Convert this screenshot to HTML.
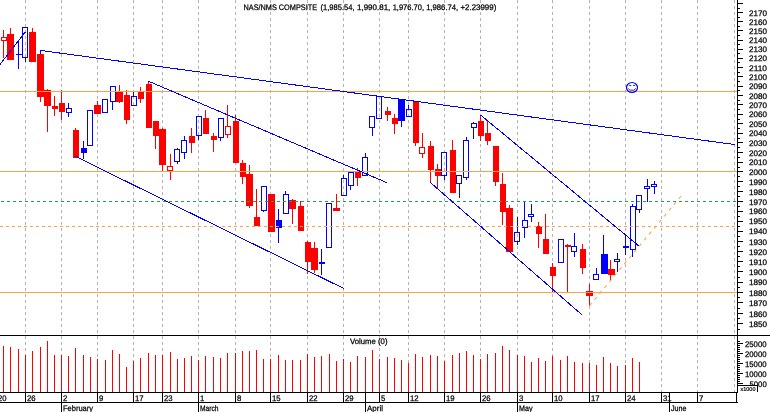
<!DOCTYPE html><html><head><meta charset="utf-8"><title>NAS/NMS COMPSITE</title>
<style>html,body{margin:0;padding:0;background:#fff;overflow:hidden}svg{display:block}text{font-family:"Liberation Sans",sans-serif;fill:#000}</style></head><body>
<svg width="770" height="412" viewBox="0 0 770 412" shape-rendering="crispEdges">
<rect width="770" height="412" fill="#fff"/>
<g stroke="#b4b4b4" stroke-width="1" stroke-dasharray="3 3" fill="none">
<line x1="25.5" y1="0" x2="25.5" y2="392"/>
<line x1="61.5" y1="0" x2="61.5" y2="392"/>
<line x1="97.5" y1="0" x2="97.5" y2="392"/>
<line x1="133.5" y1="0" x2="133.5" y2="392"/>
<line x1="162.5" y1="0" x2="162.5" y2="392"/>
<line x1="198.5" y1="0" x2="198.5" y2="392"/>
<line x1="235.5" y1="0" x2="235.5" y2="392"/>
<line x1="270.5" y1="0" x2="270.5" y2="392"/>
<line x1="307.5" y1="0" x2="307.5" y2="392"/>
<line x1="343.5" y1="0" x2="343.5" y2="392"/>
<line x1="379.5" y1="0" x2="379.5" y2="392"/>
<line x1="408.5" y1="0" x2="408.5" y2="392"/>
<line x1="444.5" y1="0" x2="444.5" y2="392"/>
<line x1="480.5" y1="0" x2="480.5" y2="392"/>
<line x1="517.5" y1="0" x2="517.5" y2="392"/>
<line x1="552.5" y1="0" x2="552.5" y2="392"/>
<line x1="589.5" y1="0" x2="589.5" y2="392"/>
<line x1="625.5" y1="0" x2="625.5" y2="392"/>
<line x1="661.5" y1="0" x2="661.5" y2="392"/>
<line x1="697.5" y1="0" x2="697.5" y2="392"/>
<line x1="734.5" y1="0" x2="734.5" y2="392"/>
</g>
<g fill="#ff0000">
<rect x="3" y="346" width="1" height="46"/>
<rect x="10" y="347" width="1" height="45"/>
<rect x="18" y="349" width="1" height="43"/>
<rect x="25" y="355" width="1" height="37"/>
<rect x="32" y="351" width="1" height="41"/>
<rect x="40" y="347" width="1" height="45"/>
<rect x="47" y="341" width="1" height="51"/>
<rect x="54" y="355" width="1" height="37"/>
<rect x="61" y="355" width="1" height="37"/>
<rect x="68" y="356" width="1" height="36"/>
<rect x="75" y="348" width="1" height="44"/>
<rect x="83" y="355" width="1" height="37"/>
<rect x="90" y="357" width="1" height="35"/>
<rect x="97" y="359" width="1" height="33"/>
<rect x="105" y="360" width="1" height="32"/>
<rect x="112" y="350" width="1" height="42"/>
<rect x="119" y="354" width="1" height="38"/>
<rect x="126" y="367" width="1" height="25"/>
<rect x="133" y="361" width="1" height="31"/>
<rect x="140" y="358" width="1" height="34"/>
<rect x="148" y="353" width="1" height="39"/>
<rect x="155" y="355" width="1" height="37"/>
<rect x="162" y="355" width="1" height="37"/>
<rect x="170" y="352" width="1" height="40"/>
<rect x="177" y="359" width="1" height="33"/>
<rect x="184" y="358" width="1" height="34"/>
<rect x="191" y="356" width="1" height="36"/>
<rect x="198" y="360" width="1" height="32"/>
<rect x="205" y="356" width="1" height="36"/>
<rect x="213" y="357" width="1" height="35"/>
<rect x="220" y="358" width="1" height="34"/>
<rect x="227" y="353" width="1" height="39"/>
<rect x="235" y="353" width="1" height="39"/>
<rect x="242" y="351" width="1" height="41"/>
<rect x="249" y="351" width="1" height="41"/>
<rect x="256" y="350" width="1" height="42"/>
<rect x="263" y="359" width="1" height="33"/>
<rect x="270" y="359" width="1" height="33"/>
<rect x="278" y="355" width="1" height="37"/>
<rect x="285" y="360" width="1" height="32"/>
<rect x="292" y="360" width="1" height="32"/>
<rect x="300" y="360" width="1" height="32"/>
<rect x="307" y="354" width="1" height="38"/>
<rect x="314" y="357" width="1" height="35"/>
<rect x="321" y="356" width="1" height="36"/>
<rect x="329" y="354" width="1" height="38"/>
<rect x="336" y="361" width="1" height="31"/>
<rect x="343" y="359" width="1" height="33"/>
<rect x="350" y="362" width="1" height="30"/>
<rect x="357" y="356" width="1" height="36"/>
<rect x="365" y="357" width="1" height="35"/>
<rect x="372" y="350" width="1" height="42"/>
<rect x="379" y="359" width="1" height="33"/>
<rect x="387" y="357" width="1" height="35"/>
<rect x="394" y="358" width="1" height="34"/>
<rect x="401" y="360" width="1" height="32"/>
<rect x="408" y="363" width="1" height="29"/>
<rect x="415" y="354" width="1" height="38"/>
<rect x="422" y="357" width="1" height="35"/>
<rect x="430" y="355" width="1" height="37"/>
<rect x="437" y="356" width="1" height="36"/>
<rect x="444" y="361" width="1" height="31"/>
<rect x="452" y="355" width="1" height="37"/>
<rect x="459" y="353" width="1" height="39"/>
<rect x="466" y="351" width="1" height="41"/>
<rect x="473" y="355" width="1" height="37"/>
<rect x="480" y="359" width="1" height="33"/>
<rect x="487" y="354" width="1" height="38"/>
<rect x="495" y="353" width="1" height="39"/>
<rect x="502" y="346" width="1" height="46"/>
<rect x="509" y="350" width="1" height="42"/>
<rect x="517" y="355" width="1" height="37"/>
<rect x="524" y="356" width="1" height="36"/>
<rect x="531" y="362" width="1" height="30"/>
<rect x="538" y="358" width="1" height="34"/>
<rect x="545" y="361" width="1" height="31"/>
<rect x="552" y="356" width="1" height="36"/>
<rect x="560" y="360" width="1" height="32"/>
<rect x="567" y="356" width="1" height="36"/>
<rect x="574" y="362" width="1" height="30"/>
<rect x="582" y="363" width="1" height="29"/>
<rect x="589" y="363" width="1" height="29"/>
<rect x="596" y="365" width="1" height="27"/>
<rect x="603" y="357" width="1" height="35"/>
<rect x="610" y="363" width="1" height="29"/>
<rect x="617" y="366" width="1" height="26"/>
<rect x="625" y="365" width="1" height="27"/>
<rect x="632" y="358" width="1" height="34"/>
<rect x="639" y="362" width="1" height="30"/>
</g>
<rect x="3" y="30" width="1" height="7" fill="#ff0000"/>
<rect x="3" y="41" width="1" height="17" fill="#ff0000"/>
<rect x="1.5" y="37.5" width="5" height="3" fill="none" stroke="#ff0000" stroke-width="1"/>
<rect x="10" y="28" width="1" height="32" fill="#ff0000"/>
<rect x="7" y="34" width="7" height="26" fill="#ff0000"/>
<rect x="18" y="41" width="1" height="28" fill="#0000ff"/>
<rect x="16" y="54" width="6" height="1" fill="#0000ff"/>
<rect x="25" y="58" width="1" height="4" fill="#0000ff"/>
<rect x="22.5" y="27.5" width="5" height="30" fill="none" stroke="#0000ff" stroke-width="1"/>
<rect x="32" y="28" width="1" height="34" fill="#ff0000"/>
<rect x="29" y="32" width="7" height="30" fill="#ff0000"/>
<rect x="40" y="50" width="1" height="52" fill="#ff0000"/>
<rect x="37" y="54" width="7" height="43" fill="#ff0000"/>
<rect x="47" y="89" width="1" height="43" fill="#ff0000"/>
<rect x="44" y="90" width="7" height="16" fill="#ff0000"/>
<rect x="54" y="96" width="1" height="20" fill="#ff0000"/>
<rect x="52" y="106" width="6" height="3" fill="#ff0000"/>
<rect x="61" y="90" width="1" height="30" fill="#ff0000"/>
<rect x="59" y="103" width="6" height="9" fill="#ff0000"/>
<rect x="68" y="103" width="1" height="5" fill="#0000ff"/>
<rect x="68" y="113" width="1" height="4" fill="#0000ff"/>
<rect x="66.5" y="108.5" width="5" height="4" fill="none" stroke="#0000ff" stroke-width="1"/>
<rect x="75" y="128" width="1" height="30" fill="#ff0000"/>
<rect x="73" y="130" width="6" height="28" fill="#ff0000"/>
<rect x="83" y="141" width="1" height="18" fill="#0000ff"/>
<rect x="81" y="148" width="6" height="5" fill="#0000ff"/>
<rect x="87.5" y="110.5" width="5" height="35" fill="none" stroke="#0000ff" stroke-width="1"/>
<rect x="97" y="101" width="1" height="13" fill="#ff0000"/>
<rect x="94" y="105" width="7" height="9" fill="#ff0000"/>
<rect x="102.5" y="99.5" width="5" height="13" fill="none" stroke="#0000ff" stroke-width="1"/>
<rect x="112" y="102" width="1" height="8" fill="#0000ff"/>
<rect x="110.5" y="86.5" width="5" height="15" fill="none" stroke="#0000ff" stroke-width="1"/>
<rect x="119" y="85" width="1" height="18" fill="#ff0000"/>
<rect x="116" y="92" width="7" height="10" fill="#ff0000"/>
<rect x="126" y="90" width="1" height="34" fill="#ff0000"/>
<rect x="124" y="95" width="6" height="25" fill="#ff0000"/>
<rect x="133" y="92" width="1" height="4" fill="#0000ff"/>
<rect x="131.5" y="96.5" width="5" height="9" fill="none" stroke="#0000ff" stroke-width="1"/>
<rect x="140" y="87" width="1" height="16" fill="#ff0000"/>
<rect x="138" y="92" width="6" height="7" fill="#ff0000"/>
<rect x="148" y="81" width="1" height="47" fill="#ff0000"/>
<rect x="146" y="84" width="6" height="44" fill="#ff0000"/>
<rect x="155" y="121" width="1" height="28" fill="#ff0000"/>
<rect x="153" y="121" width="6" height="15" fill="#ff0000"/>
<rect x="162" y="128" width="1" height="43" fill="#ff0000"/>
<rect x="159" y="129" width="7" height="36" fill="#ff0000"/>
<rect x="170" y="154" width="1" height="12" fill="#ff0000"/>
<rect x="170" y="171" width="1" height="9" fill="#ff0000"/>
<rect x="167.5" y="166.5" width="5" height="4" fill="none" stroke="#ff0000" stroke-width="1"/>
<rect x="177" y="148" width="1" height="1" fill="#0000ff"/>
<rect x="177" y="162" width="1" height="2" fill="#0000ff"/>
<rect x="174.5" y="149.5" width="5" height="12" fill="none" stroke="#0000ff" stroke-width="1"/>
<rect x="184" y="136" width="1" height="4" fill="#0000ff"/>
<rect x="184" y="153" width="1" height="6" fill="#0000ff"/>
<rect x="181.5" y="140.5" width="5" height="12" fill="none" stroke="#0000ff" stroke-width="1"/>
<rect x="191" y="128" width="1" height="25" fill="#ff0000"/>
<rect x="189" y="136" width="6" height="7" fill="#ff0000"/>
<rect x="198" y="136" width="1" height="4" fill="#0000ff"/>
<rect x="196.5" y="116.5" width="5" height="19" fill="none" stroke="#0000ff" stroke-width="1"/>
<rect x="205" y="110" width="1" height="24" fill="#ff0000"/>
<rect x="203" y="118" width="6" height="16" fill="#ff0000"/>
<rect x="213" y="133" width="1" height="19" fill="#ff0000"/>
<rect x="211" y="136" width="6" height="4" fill="#ff0000"/>
<rect x="220" y="138" width="1" height="3" fill="#0000ff"/>
<rect x="218.5" y="118.5" width="5" height="19" fill="none" stroke="#0000ff" stroke-width="1"/>
<rect x="227" y="105" width="1" height="21" fill="#ff0000"/>
<rect x="227" y="135" width="1" height="3" fill="#ff0000"/>
<rect x="225.5" y="126.5" width="5" height="8" fill="none" stroke="#ff0000" stroke-width="1"/>
<rect x="235" y="115" width="1" height="48" fill="#ff0000"/>
<rect x="233" y="121" width="6" height="42" fill="#ff0000"/>
<rect x="242" y="160" width="1" height="24" fill="#ff0000"/>
<rect x="240" y="163" width="6" height="14" fill="#ff0000"/>
<rect x="249" y="165" width="1" height="43" fill="#ff0000"/>
<rect x="246" y="174" width="7" height="32" fill="#ff0000"/>
<rect x="256" y="189" width="1" height="37" fill="#ff0000"/>
<rect x="254" y="217" width="6" height="9" fill="#ff0000"/>
<rect x="263" y="211" width="1" height="1" fill="#0000ff"/>
<rect x="261.5" y="186.5" width="5" height="24" fill="none" stroke="#0000ff" stroke-width="1"/>
<rect x="270" y="194" width="1" height="38" fill="#ff0000"/>
<rect x="268" y="194" width="7" height="38" fill="#ff0000"/>
<rect x="278" y="209" width="1" height="34" fill="#0000ff"/>
<rect x="276" y="220" width="6" height="8" fill="#0000ff"/>
<rect x="285" y="191" width="1" height="3" fill="#0000ff"/>
<rect x="283.5" y="194.5" width="5" height="19" fill="none" stroke="#0000ff" stroke-width="1"/>
<rect x="292" y="199" width="1" height="25" fill="#ff0000"/>
<rect x="289" y="200" width="7" height="9" fill="#ff0000"/>
<rect x="300" y="201" width="1" height="30" fill="#ff0000"/>
<rect x="298" y="206" width="6" height="25" fill="#ff0000"/>
<rect x="307" y="241" width="1" height="33" fill="#ff0000"/>
<rect x="305" y="242" width="6" height="20" fill="#ff0000"/>
<rect x="314" y="242" width="1" height="31" fill="#ff0000"/>
<rect x="311" y="248" width="7" height="22" fill="#ff0000"/>
<rect x="321" y="249" width="1" height="26" fill="#0000ff"/>
<rect x="319" y="262" width="6" height="2" fill="#0000ff"/>
<rect x="326.5" y="203.5" width="5" height="44" fill="none" stroke="#0000ff" stroke-width="1"/>
<rect x="336" y="194" width="1" height="17" fill="#ff0000"/>
<rect x="333" y="208" width="7" height="3" fill="#ff0000"/>
<rect x="343" y="175" width="1" height="3" fill="#0000ff"/>
<rect x="341.5" y="178.5" width="5" height="17" fill="none" stroke="#0000ff" stroke-width="1"/>
<rect x="350" y="186" width="1" height="4" fill="#0000ff"/>
<rect x="348.5" y="172.5" width="5" height="13" fill="none" stroke="#0000ff" stroke-width="1"/>
<rect x="357" y="168" width="1" height="18" fill="#ff0000"/>
<rect x="355" y="172" width="6" height="6" fill="#ff0000"/>
<rect x="365" y="153" width="1" height="4" fill="#0000ff"/>
<rect x="362.5" y="157.5" width="5" height="18" fill="none" stroke="#0000ff" stroke-width="1"/>
<rect x="372" y="128" width="1" height="8" fill="#0000ff"/>
<rect x="369.5" y="116.5" width="5" height="11" fill="none" stroke="#0000ff" stroke-width="1"/>
<rect x="376.5" y="96.5" width="5" height="22" fill="none" stroke="#0000ff" stroke-width="1"/>
<rect x="387" y="107" width="1" height="14" fill="#ff0000"/>
<rect x="385" y="111" width="6" height="4" fill="#ff0000"/>
<rect x="394" y="114" width="1" height="20" fill="#ff0000"/>
<rect x="392" y="118" width="6" height="6" fill="#ff0000"/>
<rect x="401" y="99" width="1" height="28" fill="#0000ff"/>
<rect x="398" y="99" width="7" height="22" fill="#0000ff"/>
<rect x="408" y="105" width="1" height="4" fill="#0000ff"/>
<rect x="406.5" y="109.5" width="5" height="7" fill="none" stroke="#0000ff" stroke-width="1"/>
<rect x="415" y="102" width="1" height="44" fill="#ff0000"/>
<rect x="413" y="102" width="6" height="41" fill="#ff0000"/>
<rect x="422" y="133" width="1" height="14" fill="#ff0000"/>
<rect x="422" y="154" width="1" height="4" fill="#ff0000"/>
<rect x="419.5" y="147.5" width="5" height="6" fill="none" stroke="#ff0000" stroke-width="1"/>
<rect x="430" y="141" width="1" height="41" fill="#ff0000"/>
<rect x="428" y="146" width="6" height="24" fill="#ff0000"/>
<rect x="437" y="164" width="1" height="24" fill="#ff0000"/>
<rect x="435" y="169" width="6" height="7" fill="#ff0000"/>
<rect x="444" y="176" width="1" height="4" fill="#0000ff"/>
<rect x="441.5" y="152.5" width="5" height="23" fill="none" stroke="#0000ff" stroke-width="1"/>
<rect x="452" y="140" width="1" height="53" fill="#ff0000"/>
<rect x="450" y="150" width="6" height="43" fill="#ff0000"/>
<rect x="459" y="184" width="1" height="14" fill="#0000ff"/>
<rect x="456.5" y="175.5" width="5" height="8" fill="none" stroke="#0000ff" stroke-width="1"/>
<rect x="466" y="137" width="1" height="3" fill="#0000ff"/>
<rect x="466" y="178" width="1" height="2" fill="#0000ff"/>
<rect x="463.5" y="140.5" width="5" height="37" fill="none" stroke="#0000ff" stroke-width="1"/>
<rect x="473" y="122" width="1" height="1" fill="#0000ff"/>
<rect x="473" y="128" width="1" height="11" fill="#0000ff"/>
<rect x="471.5" y="123.5" width="5" height="4" fill="none" stroke="#0000ff" stroke-width="1"/>
<rect x="480" y="115" width="1" height="26" fill="#ff0000"/>
<rect x="478" y="121" width="6" height="15" fill="#ff0000"/>
<rect x="487" y="120" width="1" height="25" fill="#ff0000"/>
<rect x="485" y="133" width="6" height="8" fill="#ff0000"/>
<rect x="495" y="146" width="1" height="40" fill="#ff0000"/>
<rect x="493" y="146" width="6" height="36" fill="#ff0000"/>
<rect x="502" y="173" width="1" height="52" fill="#ff0000"/>
<rect x="500" y="184" width="6" height="28" fill="#ff0000"/>
<rect x="509" y="205" width="1" height="47" fill="#ff0000"/>
<rect x="506" y="208" width="7" height="44" fill="#ff0000"/>
<rect x="517" y="217" width="1" height="15" fill="#0000ff"/>
<rect x="517" y="242" width="1" height="3" fill="#0000ff"/>
<rect x="514.5" y="232.5" width="5" height="9" fill="none" stroke="#0000ff" stroke-width="1"/>
<rect x="524" y="202" width="1" height="18" fill="#0000ff"/>
<rect x="524" y="228" width="1" height="10" fill="#0000ff"/>
<rect x="522.5" y="220.5" width="5" height="7" fill="none" stroke="#0000ff" stroke-width="1"/>
<rect x="531" y="204" width="1" height="10" fill="#0000ff"/>
<rect x="531" y="217" width="1" height="5" fill="#0000ff"/>
<rect x="528.5" y="214.5" width="5" height="2" fill="none" stroke="#0000ff" stroke-width="1"/>
<rect x="538" y="222" width="1" height="26" fill="#ff0000"/>
<rect x="536" y="226" width="6" height="8" fill="#ff0000"/>
<rect x="545" y="214" width="1" height="40" fill="#ff0000"/>
<rect x="543" y="239" width="6" height="15" fill="#ff0000"/>
<rect x="552" y="263" width="1" height="29" fill="#ff0000"/>
<rect x="550" y="267" width="6" height="9" fill="#ff0000"/>
<rect x="558.5" y="239.5" width="5" height="23" fill="none" stroke="#0000ff" stroke-width="1"/>
<rect x="567" y="244" width="1" height="48" fill="#ff0000"/>
<rect x="565" y="245" width="6" height="2" fill="#ff0000"/>
<rect x="574" y="233" width="1" height="13" fill="#0000ff"/>
<rect x="574" y="252" width="1" height="5" fill="#0000ff"/>
<rect x="571.5" y="246.5" width="5" height="5" fill="none" stroke="#0000ff" stroke-width="1"/>
<rect x="582" y="244" width="1" height="30" fill="#ff0000"/>
<rect x="580" y="249" width="6" height="19" fill="#ff0000"/>
<rect x="589" y="284" width="1" height="22" fill="#ff0000"/>
<rect x="586" y="291" width="7" height="5" fill="#ff0000"/>
<rect x="596" y="268" width="1" height="6" fill="#0000ff"/>
<rect x="593.5" y="274.5" width="5" height="5" fill="none" stroke="#0000ff" stroke-width="1"/>
<rect x="603" y="235" width="1" height="39" fill="#0000ff"/>
<rect x="601" y="254" width="7" height="20" fill="#0000ff"/>
<rect x="610" y="260" width="1" height="21" fill="#ff0000"/>
<rect x="608" y="269" width="7" height="6" fill="#ff0000"/>
<rect x="617" y="253" width="1" height="6" fill="#0000ff"/>
<rect x="617" y="262" width="1" height="10" fill="#0000ff"/>
<rect x="614.5" y="259.5" width="5" height="2" fill="none" stroke="#0000ff" stroke-width="1"/>
<rect x="625" y="235" width="1" height="20" fill="#0000ff"/>
<rect x="623" y="246" width="6" height="2" fill="#0000ff"/>
<rect x="632" y="204" width="1" height="2" fill="#0000ff"/>
<rect x="632" y="250" width="1" height="7" fill="#0000ff"/>
<rect x="630.5" y="206.5" width="5" height="43" fill="none" stroke="#0000ff" stroke-width="1"/>
<rect x="639" y="210" width="1" height="3" fill="#0000ff"/>
<rect x="636.5" y="195.5" width="5" height="14" fill="none" stroke="#0000ff" stroke-width="1"/>
<rect x="647" y="179" width="1" height="7" fill="#0000ff"/>
<rect x="647" y="189" width="1" height="13" fill="#0000ff"/>
<rect x="644.5" y="186.5" width="5" height="2" fill="none" stroke="#0000ff" stroke-width="1"/>
<rect x="654" y="181" width="1" height="3" fill="#0000ff"/>
<rect x="654" y="187" width="1" height="7" fill="#0000ff"/>
<rect x="651.5" y="184.5" width="5" height="2" fill="none" stroke="#0000ff" stroke-width="1"/>
<g fill="#ffa046">
<rect x="0" y="91" width="737" height="1"/>
<rect x="0" y="171" width="737" height="1"/>
<rect x="0" y="292" width="737" height="1"/>
</g>
<g stroke="#ffa046" stroke-width="1" fill="none">
<line x1="0" y1="226.5" x2="737" y2="226.5" stroke-dasharray="3 3"/>
<line x1="589.5" y1="305.7" x2="681.2" y2="195.9" stroke-dasharray="3.4 4.35" stroke-width="1.05" shape-rendering="auto"/>
</g>
<line x1="1" y1="201.5" x2="737" y2="201.5" stroke="#22a055" stroke-width="1" stroke-dasharray="3 3"/>
<g stroke="#0000ff" stroke-width="1" fill="none" shape-rendering="crispEdges" stroke-linecap="butt">
<line x1="0" y1="64.4" x2="25.5" y2="31.7"/>
<polyline points="40.3,54 40.3,50.4 735,144.6"/>
<line x1="148.4" y1="81.2" x2="386.7" y2="182.6"/>
<line x1="75" y1="156.2" x2="344" y2="288.6"/>
<line x1="430" y1="182.2" x2="581.7" y2="314.6"/>
<line x1="480.6" y1="115" x2="639.3" y2="246.4"/>
<ellipse cx="632" cy="87.5" rx="5.5" ry="5" stroke-width="1.2" shape-rendering="auto"/>
<path d="M629.2 85.4H631.2M633 85.4H635.1M628.3 88.4Q629.3 90.1 630.6 90.2H633.6Q634.9 90.1 635.6 88.4" stroke-width="0.9" shape-rendering="auto"/>
</g>
<g fill="#000">
<rect x="0" y="335" width="770" height="1"/>
<rect x="0" y="392" width="738" height="1"/>
<rect x="0" y="402" width="738" height="1"/>
<rect x="737" y="0" width="1" height="392"/>
<rect x="737" y="329" width="3" height="1"/>
<rect x="737" y="323" width="6" height="1"/>
<rect x="737" y="318" width="3" height="1"/>
<rect x="737" y="313" width="6" height="1"/>
<rect x="737" y="308" width="3" height="1"/>
<rect x="737" y="302" width="6" height="1"/>
<rect x="737" y="297" width="3" height="1"/>
<rect x="737" y="292" width="6" height="1"/>
<rect x="737" y="287" width="3" height="1"/>
<rect x="737" y="282" width="6" height="1"/>
<rect x="737" y="277" width="3" height="1"/>
<rect x="737" y="271" width="6" height="1"/>
<rect x="737" y="266" width="3" height="1"/>
<rect x="737" y="261" width="6" height="1"/>
<rect x="737" y="256" width="3" height="1"/>
<rect x="737" y="251" width="6" height="1"/>
<rect x="737" y="246" width="3" height="1"/>
<rect x="737" y="241" width="6" height="1"/>
<rect x="737" y="236" width="3" height="1"/>
<rect x="737" y="231" width="6" height="1"/>
<rect x="737" y="226" width="3" height="1"/>
<rect x="737" y="221" width="6" height="1"/>
<rect x="737" y="216" width="3" height="1"/>
<rect x="737" y="211" width="6" height="1"/>
<rect x="737" y="206" width="3" height="1"/>
<rect x="737" y="201" width="6" height="1"/>
<rect x="737" y="196" width="3" height="1"/>
<rect x="737" y="191" width="6" height="1"/>
<rect x="737" y="186" width="3" height="1"/>
<rect x="737" y="181" width="6" height="1"/>
<rect x="737" y="176" width="3" height="1"/>
<rect x="737" y="171" width="6" height="1"/>
<rect x="737" y="167" width="3" height="1"/>
<rect x="737" y="162" width="6" height="1"/>
<rect x="737" y="157" width="3" height="1"/>
<rect x="737" y="152" width="6" height="1"/>
<rect x="737" y="147" width="3" height="1"/>
<rect x="737" y="142" width="6" height="1"/>
<rect x="737" y="138" width="3" height="1"/>
<rect x="737" y="133" width="6" height="1"/>
<rect x="737" y="128" width="3" height="1"/>
<rect x="737" y="123" width="6" height="1"/>
<rect x="737" y="119" width="3" height="1"/>
<rect x="737" y="114" width="6" height="1"/>
<rect x="737" y="109" width="3" height="1"/>
<rect x="737" y="104" width="6" height="1"/>
<rect x="737" y="100" width="3" height="1"/>
<rect x="737" y="95" width="6" height="1"/>
<rect x="737" y="90" width="3" height="1"/>
<rect x="737" y="86" width="6" height="1"/>
<rect x="737" y="81" width="3" height="1"/>
<rect x="737" y="76" width="6" height="1"/>
<rect x="737" y="72" width="3" height="1"/>
<rect x="737" y="67" width="6" height="1"/>
<rect x="737" y="62" width="3" height="1"/>
<rect x="737" y="58" width="6" height="1"/>
<rect x="737" y="53" width="3" height="1"/>
<rect x="737" y="49" width="6" height="1"/>
<rect x="737" y="44" width="3" height="1"/>
<rect x="737" y="40" width="6" height="1"/>
<rect x="737" y="35" width="3" height="1"/>
<rect x="737" y="30" width="6" height="1"/>
<rect x="737" y="26" width="3" height="1"/>
<rect x="737" y="21" width="6" height="1"/>
<rect x="737" y="17" width="3" height="1"/>
<rect x="737" y="12" width="6" height="1"/>
<rect x="737" y="8" width="3" height="1"/>
<rect x="737" y="3" width="6" height="1"/>
<rect x="737" y="391" width="3" height="1"/>
<rect x="737" y="389" width="3" height="1"/>
<rect x="737" y="387" width="3" height="1"/>
<rect x="737" y="385" width="3" height="1"/>
<rect x="737" y="383" width="6" height="1"/>
<rect x="737" y="381" width="3" height="1"/>
<rect x="737" y="379" width="3" height="1"/>
<rect x="737" y="377" width="3" height="1"/>
<rect x="737" y="375" width="3" height="1"/>
<rect x="737" y="373" width="6" height="1"/>
<rect x="737" y="371" width="3" height="1"/>
<rect x="737" y="369" width="3" height="1"/>
<rect x="737" y="367" width="3" height="1"/>
<rect x="737" y="365" width="3" height="1"/>
<rect x="737" y="363" width="6" height="1"/>
<rect x="737" y="361" width="3" height="1"/>
<rect x="737" y="359" width="3" height="1"/>
<rect x="737" y="357" width="3" height="1"/>
<rect x="737" y="355" width="3" height="1"/>
<rect x="737" y="353" width="6" height="1"/>
<rect x="737" y="351" width="3" height="1"/>
<rect x="737" y="349" width="3" height="1"/>
<rect x="737" y="347" width="3" height="1"/>
<rect x="737" y="345" width="3" height="1"/>
<rect x="737" y="343" width="6" height="1"/>
<rect x="737" y="341" width="3" height="1"/>
<rect x="25" y="392" width="1" height="10"/>
<rect x="61" y="392" width="1" height="10"/>
<rect x="97" y="392" width="1" height="10"/>
<rect x="133" y="392" width="1" height="10"/>
<rect x="162" y="392" width="1" height="10"/>
<rect x="198" y="392" width="1" height="10"/>
<rect x="235" y="392" width="1" height="10"/>
<rect x="270" y="392" width="1" height="10"/>
<rect x="307" y="392" width="1" height="10"/>
<rect x="343" y="392" width="1" height="10"/>
<rect x="379" y="392" width="1" height="10"/>
<rect x="408" y="392" width="1" height="10"/>
<rect x="444" y="392" width="1" height="10"/>
<rect x="480" y="392" width="1" height="10"/>
<rect x="517" y="392" width="1" height="10"/>
<rect x="552" y="392" width="1" height="10"/>
<rect x="589" y="392" width="1" height="10"/>
<rect x="625" y="392" width="1" height="10"/>
<rect x="661" y="392" width="1" height="10"/>
<rect x="697" y="392" width="1" height="10"/>
<rect x="365" y="392" width="1" height="10"/>
<rect x="736" y="392" width="1" height="10"/>
<rect x="669" y="392" width="1" height="10"/>
<rect x="61" y="402" width="1" height="10"/>
<rect x="198" y="402" width="1" height="10"/>
<rect x="365" y="402" width="1" height="10"/>
<rect x="517" y="402" width="1" height="10"/>
<rect x="669" y="402" width="1" height="10"/>
</g>
<g font-size="8px" shape-rendering="auto" text-rendering="geometricPrecision" stroke="#000" stroke-width="0.25">
<text x="749" y="327.0" textLength="18" lengthAdjust="spacingAndGlyphs">1850</text>
<text x="749" y="316.5" textLength="18" lengthAdjust="spacingAndGlyphs">1860</text>
<text x="749" y="306.1" textLength="18" lengthAdjust="spacingAndGlyphs">1870</text>
<text x="749" y="295.7" textLength="18" lengthAdjust="spacingAndGlyphs">1880</text>
<text x="749" y="285.3" textLength="18" lengthAdjust="spacingAndGlyphs">1890</text>
<text x="749" y="275.0" textLength="18" lengthAdjust="spacingAndGlyphs">1900</text>
<text x="749" y="264.8" textLength="18" lengthAdjust="spacingAndGlyphs">1910</text>
<text x="749" y="254.6" textLength="18" lengthAdjust="spacingAndGlyphs">1920</text>
<text x="749" y="244.5" textLength="18" lengthAdjust="spacingAndGlyphs">1930</text>
<text x="749" y="234.4" textLength="18" lengthAdjust="spacingAndGlyphs">1940</text>
<text x="749" y="224.4" textLength="18" lengthAdjust="spacingAndGlyphs">1950</text>
<text x="749" y="214.4" textLength="18" lengthAdjust="spacingAndGlyphs">1960</text>
<text x="749" y="204.5" textLength="18" lengthAdjust="spacingAndGlyphs">1970</text>
<text x="749" y="194.6" textLength="18" lengthAdjust="spacingAndGlyphs">1980</text>
<text x="749" y="184.8" textLength="18" lengthAdjust="spacingAndGlyphs">1990</text>
<text x="749" y="175.0" textLength="18" lengthAdjust="spacingAndGlyphs">2000</text>
<text x="749" y="165.3" textLength="18" lengthAdjust="spacingAndGlyphs">2010</text>
<text x="749" y="155.6" textLength="18" lengthAdjust="spacingAndGlyphs">2020</text>
<text x="749" y="146.0" textLength="18" lengthAdjust="spacingAndGlyphs">2030</text>
<text x="749" y="136.4" textLength="18" lengthAdjust="spacingAndGlyphs">2040</text>
<text x="749" y="126.9" textLength="18" lengthAdjust="spacingAndGlyphs">2050</text>
<text x="749" y="117.4" textLength="18" lengthAdjust="spacingAndGlyphs">2060</text>
<text x="749" y="108.0" textLength="18" lengthAdjust="spacingAndGlyphs">2070</text>
<text x="749" y="98.6" textLength="18" lengthAdjust="spacingAndGlyphs">2080</text>
<text x="749" y="89.2" textLength="18" lengthAdjust="spacingAndGlyphs">2090</text>
<text x="749" y="79.9" textLength="18" lengthAdjust="spacingAndGlyphs">2100</text>
<text x="749" y="70.7" textLength="18" lengthAdjust="spacingAndGlyphs">2110</text>
<text x="749" y="61.4" textLength="18" lengthAdjust="spacingAndGlyphs">2120</text>
<text x="749" y="52.3" textLength="18" lengthAdjust="spacingAndGlyphs">2130</text>
<text x="749" y="43.1" textLength="18" lengthAdjust="spacingAndGlyphs">2140</text>
<text x="749" y="34.1" textLength="18" lengthAdjust="spacingAndGlyphs">2150</text>
<text x="749" y="25.0" textLength="18" lengthAdjust="spacingAndGlyphs">2160</text>
<text x="749" y="16.0" textLength="18" lengthAdjust="spacingAndGlyphs">2170</text>
<text x="745" y="347.0" textLength="21.5" lengthAdjust="spacingAndGlyphs">25000</text>
<text x="745" y="356.9" textLength="21.5" lengthAdjust="spacingAndGlyphs">20000</text>
<text x="745" y="366.8" textLength="21.5" lengthAdjust="spacingAndGlyphs">15000</text>
<text x="745" y="376.7" textLength="21.5" lengthAdjust="spacingAndGlyphs">10000</text>
<text x="749.5" y="386.6" textLength="17.2" lengthAdjust="spacingAndGlyphs">5000</text>
<text x="-2" y="401" textLength="8.5" lengthAdjust="spacingAndGlyphs">20</text>
<text x="27" y="401" textLength="8.6" lengthAdjust="spacingAndGlyphs">26</text>
<text x="63" y="401" textLength="4.3" lengthAdjust="spacingAndGlyphs">2</text>
<text x="99" y="401" textLength="4.3" lengthAdjust="spacingAndGlyphs">9</text>
<text x="135" y="401" textLength="8.6" lengthAdjust="spacingAndGlyphs">17</text>
<text x="164" y="401" textLength="8.6" lengthAdjust="spacingAndGlyphs">23</text>
<text x="200" y="401" textLength="4.3" lengthAdjust="spacingAndGlyphs">1</text>
<text x="237" y="401" textLength="4.3" lengthAdjust="spacingAndGlyphs">8</text>
<text x="272" y="401" textLength="8.6" lengthAdjust="spacingAndGlyphs">15</text>
<text x="309" y="401" textLength="8.6" lengthAdjust="spacingAndGlyphs">22</text>
<text x="345" y="401" textLength="8.6" lengthAdjust="spacingAndGlyphs">29</text>
<text x="381" y="401" textLength="4.3" lengthAdjust="spacingAndGlyphs">5</text>
<text x="410" y="401" textLength="8.6" lengthAdjust="spacingAndGlyphs">12</text>
<text x="446" y="401" textLength="8.6" lengthAdjust="spacingAndGlyphs">19</text>
<text x="482" y="401" textLength="8.6" lengthAdjust="spacingAndGlyphs">26</text>
<text x="519" y="401" textLength="4.3" lengthAdjust="spacingAndGlyphs">3</text>
<text x="554" y="401" textLength="8.6" lengthAdjust="spacingAndGlyphs">10</text>
<text x="591" y="401" textLength="8.6" lengthAdjust="spacingAndGlyphs">17</text>
<text x="627" y="401" textLength="8.6" lengthAdjust="spacingAndGlyphs">24</text>
<text x="663" y="401" textLength="8.6" lengthAdjust="spacingAndGlyphs">31</text>
<text x="699" y="401" textLength="4.3" lengthAdjust="spacingAndGlyphs">7</text>
<text x="63" y="410.5" textLength="30" lengthAdjust="spacingAndGlyphs">February</text>
<text x="200" y="410.5" textLength="18.5" lengthAdjust="spacingAndGlyphs">March</text>
<text x="367" y="410.5" textLength="16" lengthAdjust="spacingAndGlyphs">April</text>
<text x="519" y="410.5" textLength="13.5" lengthAdjust="spacingAndGlyphs">May</text>
<text x="671" y="410.5" textLength="15.5" lengthAdjust="spacingAndGlyphs">June</text>
<text x="243.5" y="10"><tspan textLength="73.5" lengthAdjust="spacingAndGlyphs">NAS/NMS COMPSITE</tspan><tspan x="320.5" textLength="34" lengthAdjust="spacingAndGlyphs">(1,985.54,</tspan><tspan x="357" textLength="33.3" lengthAdjust="spacingAndGlyphs">1,990.81,</tspan><tspan x="392.7" textLength="31.3" lengthAdjust="spacingAndGlyphs">1,976.70,</tspan><tspan x="426.2" textLength="32" lengthAdjust="spacingAndGlyphs">1,986.74,</tspan><tspan x="460.5" textLength="35.8" lengthAdjust="spacingAndGlyphs">+2.23999)</tspan></text>
<text x="350" y="344.3" textLength="37.5" lengthAdjust="spacingAndGlyphs">Volume (0)</text>
</g>
<rect x="738" y="385" width="20" height="7" fill="#fff"/><rect x="738" y="385" width="20" height="1" fill="#000"/><rect x="757" y="385" width="1" height="7" fill="#000"/>
<text x="740.5" y="391" font-size="5.5px" textLength="15" lengthAdjust="spacingAndGlyphs" shape-rendering="auto" stroke="#000" stroke-width="0.2">x1000</text>
</svg></body></html>
